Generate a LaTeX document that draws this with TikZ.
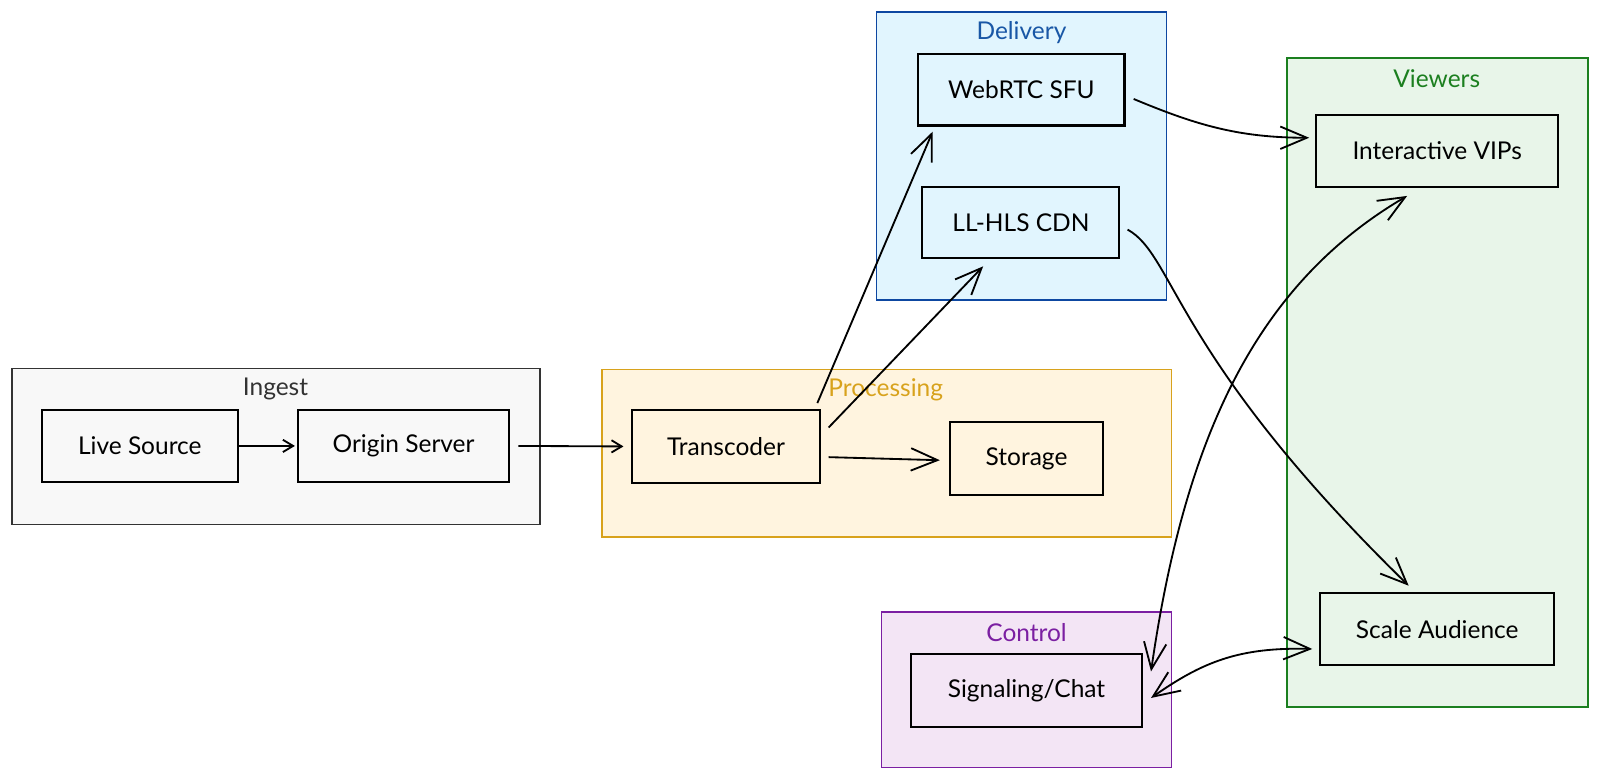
\documentclass[tikz,border=0pt]{standalone}
\usepackage{fontspec}
\setmainfont{Lato}
\usetikzlibrary{arrows.meta,calc}
\definecolor{ingF}{HTML}{F8F8F8}
\definecolor{ingD}{HTML}{333333}
\definecolor{proF}{HTML}{FFF4DF}
\definecolor{proD}{HTML}{D8A21C}
\definecolor{delF}{HTML}{E1F5FE}
\definecolor{delD}{HTML}{0D47A1}
\definecolor{delT}{HTML}{1957A6}
\definecolor{vieF}{HTML}{E8F5E9}
\definecolor{vieD}{HTML}{1B7F1F}
\definecolor{conF}{HTML}{F3E5F5}
\definecolor{conD}{HTML}{7B1FA2}
\begin{document}
\begin{tikzpicture}[x=0.5pt,y=-0.5pt,
  grp/.style={draw, line width=0.8pt, inner sep=0pt, rectangle},
  box/.style={draw=black, line width=1pt, inner sep=0pt, rectangle, font=\fontsize{12}{14}\selectfont},
  ttl/.style={inner sep=0pt, font=\fontsize{12}{14}\selectfont},
  edge/.style={line width=0.9pt, draw=black},
  small/.style={-{Straight Barb[length=5pt,width=6pt,line width=0.9pt]}},
  big/.style={-{Straight Barb[length=13pt,width=11pt,line width=0.9pt]}},
  dbl/.style={{Straight Barb[length=13pt,width=11pt,line width=0.9pt]}-{Straight Barb[length=13pt,width=11pt,line width=0.9pt]}}
]
\useasboundingbox (0,0) rectangle (1568,765.4);
\fill[white] (0,0) rectangle (1568,765.4);

% containers
\node[grp, draw=ingD, fill=ingF, minimum width=258.5pt, minimum height=76.5pt] (ingest) at (270.5,437.5) {};
\node[grp, draw=proD, fill=proF, minimum width=279pt, minimum height=82pt] (proc) at (869,444) {};
\node[grp, draw=delD, fill=delF, minimum width=142pt, minimum height=141pt] (deliv) at (1001,153) {};
\node[grp, draw=vieD, fill=vieF, minimum width=147.5pt, minimum height=318pt] (view) at (1408.5,375) {};
\node[grp, draw=conD, fill=conF, minimum width=142pt, minimum height=76pt] (ctrl) at (1006,676) {};

% titles
\node[ttl, text=ingD] (tIngest) at (270,381) {Ingest};
\node[ttl, text=proD] (tProc) at (868,382) {Processing};
\node[ttl, text=delT] (tDeliv) at (1001,32) {Delivery};
\node[ttl, text=vieD] (tView) at (1408,77) {Viewers};
\node[ttl, text=conD] (tCtrl) at (1006,620) {Control};

% nodes
\node[box, minimum width=96pt, minimum height=35pt] (ls) at (137,437) {Live Source};
\node[box, minimum width=103.5pt, minimum height=35pt] (os) at (395.5,437) {Origin Server};
\node[box, minimum width=92.5pt, minimum height=35.5pt] (tc) at (711.5,437.5) {Transcoder};
\node[box, minimum width=75pt, minimum height=35.5pt] (st) at (1006,449.5) {Storage};
\node[box, minimum width=101pt, minimum height=35pt] (sfu) at (1001,88) {WebRTC SFU};
\node[box, minimum width=96.5pt, minimum height=35pt] (cdn) at (1000.5,218) {LL-HLS CDN};
\node[box, minimum width=118.5pt, minimum height=35pt] (vip) at (1408.5,148) {Interactive VIPs};
\node[box, minimum width=114.5pt, minimum height=35.5pt] (sa) at (1408.5,616.5) {Scale Audience};
\node[box, minimum width=113pt, minimum height=35.5pt] (chat) at (1006,676.5) {Signaling/Chat};

% edges
\draw[edge, small, shorten >=1pt] (ls.east) -- (os.west);
\draw[edge, small] ($(os.east)+(8,0)$) -- ($(tc.west)+(-7,0)$);
\draw[edge, big] ($(tc.east)+(7,10.5)$) -- ($(st.west)+(-9,1.5)$);
\draw[edge, big] ($(tc.north east)+(-4,-6)$) -- ($(sfu.south west)+(15,5)$);
\draw[edge, big] ($(tc.north east)+(7,18)$) -- ($(cdn.south)+(-37,7)$);
\draw[edge, big] ($(sfu.east)+(8,9)$) .. controls +(60,25) and +(-70,0) .. ($(vip.west)+(-6,-13)$);
\draw[edge, big] ($(cdn.east)+(7,7)$) .. controls +(46,25) and +(-230.5,-225) .. ($(sa.north)+(-28,-6)$);
\draw[edge, dbl] ($(chat.north east)+(8,18)$) .. controls +(33,-229) and +(-148.5,87) .. ($(vip.south)+(-29.5,8)$);
\draw[edge, dbl] ($(chat.east)+(8,7.5)$) .. controls +(50,-35) and +(-72,-2) .. ($(sa.west)+(-7,19.5)$);
\end{tikzpicture}
\end{document}
